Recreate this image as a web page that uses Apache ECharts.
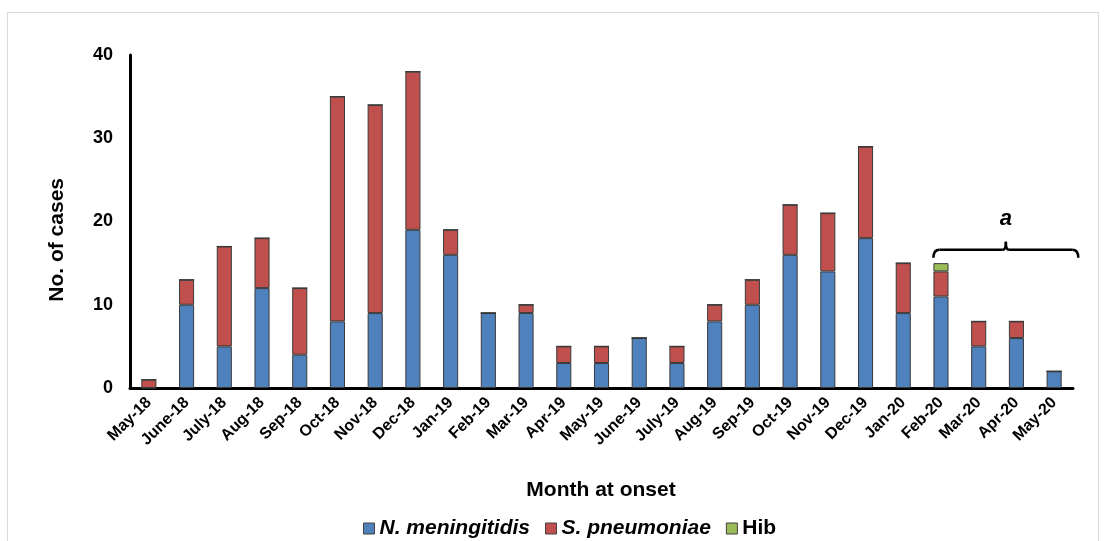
<!DOCTYPE html>
<html>
<head>
<meta charset="utf-8">
<script src="https://cdn.jsdelivr.net/npm/echarts@6/dist/echarts.min.js"></script>
<style>
  html, body { margin: 0; padding: 0; background: #fff; }
  #frame { position: absolute; left: 7px; top: 12px; width: 1092px; height: 540px; border: 1.5px solid #d9d9d9; border-bottom: none; box-sizing: border-box; }
  #chart { position: absolute; left: 0; top: 0; width: 1108px; height: 541px; }
</style>
</head>
<body>
<div id="frame"></div>
<div id="chart"></div>
<script>
// months at onset
const months = ['May-18', 'June-18', 'July-18', 'Aug-18', 'Sep-18', 'Oct-18', 'Nov-18', 'Dec-18',
  'Jan-19', 'Feb-19', 'Mar-19', 'Apr-19', 'May-19', 'June-19', 'July-19', 'Aug-19', 'Sep-19',
  'Oct-19', 'Nov-19', 'Dec-19', 'Jan-20', 'Feb-20', 'Mar-20', 'Apr-20', 'May-20'];
const nMeningitidis = [0, 10, 5, 12, 4, 8, 9, 19, 16, 9, 9, 3, 3, 6, 3, 8, 10, 16, 14, 18, 9, 11, 5, 6, 2];
const sPneumoniae = [1, 3, 12, 6, 8, 27, 25, 19, 3, 0, 1, 2, 2, 0, 2, 2, 3, 6, 7, 11, 6, 3, 3, 2, 0];
const hib = [0, 0, 0, 0, 0, 0, 0, 0, 0, 0, 0, 0, 0, 0, 0, 0, 0, 0, 0, 0, 0, 1, 0, 0, 0];
const yTicks = [0, 10, 20, 30, 40];

const font = 'Liberation Sans, Arial, Helvetica, sans-serif';
let chartDom = document.getElementById('chart');
let myChart = echarts.init(chartDom);

function barSeries(name, data, color) {
  return {
    name: name,
    type: 'bar',
    stack: 'total',
    barWidth: '40%',
    data: data,
    itemStyle: { color: color, borderColor: '#3a3a3a', borderWidth: 1 }
  };
}

const titleGraphics = [
  {
    type: 'text',
    left: 47,
    top: 178,
    rotation: Math.PI / 2,
    style: { text: 'No. of cases', font: 'bold 21px ' + font, fill: '#000' }
  },
  {
    type: 'text',
    x: 601,
    y: 490,
    style: { text: 'Month at onset', font: 'bold 21px ' + font, fill: '#000', align: 'center', verticalAlign: 'middle' }
  }
];

let option = {
  animation: false,
  textStyle: { fontFamily: font },
  grid: { left: 130, right: 35, top: 55, bottom: 153 },
  legend: {
    top: 513,
    left: 358,
    itemWidth: 11,
    itemHeight: 11,
    itemGap: 15,
    icon: 'rect',
    itemStyle: { borderColor: '#404040', borderWidth: 1 },
    formatter: function (name) {
      return name === 'Hib' ? '{n|' + name + '}' : '{i|' + name + '}';
    },
    textStyle: {
      rich: {
        i: { fontSize: 21, fontWeight: 'bold', fontStyle: 'italic', color: '#000', fontFamily: font },
        n: { fontSize: 21, fontWeight: 'bold', color: '#000', fontFamily: font }
      }
    },
    data: ['N. meningitidis', 'S. pneumoniae', 'Hib']
  },
  xAxis: {
    type: 'category',
    data: months,
    axisLine: { lineStyle: { color: '#000', width: 3 } },
    axisTick: { show: false },
    axisLabel: { interval: 0, rotate: 45, fontSize: 16, fontWeight: 'bold', color: '#000', margin: 12 }
  },
  yAxis: {
    type: 'value',
    min: yTicks[0],
    max: yTicks[yTicks.length - 1],
    interval: 10,
    axisLine: { show: true, lineStyle: { color: '#000', width: 3 } },
    axisTick: { show: false },
    splitLine: { show: false },
    axisLabel: { fontSize: 18, fontWeight: 'bold', color: '#000', margin: 17 }
  },
  graphic: titleGraphics,
  series: [
    barSeries('N. meningitidis', nMeningitidis, '#4F81BD'),
    barSeries('S. pneumoniae', sPneumoniae, '#C0504D'),
    barSeries('Hib', hib, '#9BBB59')
  ]
};
myChart.setOption(option);

// bracket "a" over Feb-20 .. May-20
const p0 = myChart.convertToPixel({ xAxisIndex: 0, yAxisIndex: 0 }, ['Feb-20', 16.6]);
const p1 = myChart.convertToPixel({ xAxisIndex: 0, yAxisIndex: 0 }, ['May-20', 16.6]);
const step = (p1[0] - p0[0]) / 3;
const bx0 = p0[0] - step * 0.2;
const bx1 = p1[0] + step * 0.64;
const by = p0[1];
const bm = (bx0 + bx1) / 2;
const lineStyle = { stroke: '#000', lineWidth: 2.5, fill: null };
const bracket = [
  { type: 'bezierCurve', shape: { x1: bx0, y1: by + 8, cpx1: bx0, cpy1: by, x2: bx0 + 6, y2: by }, style: lineStyle },
  { type: 'line', shape: { x1: bx0 + 6, y1: by, x2: bm - 3, y2: by }, style: lineStyle },
  { type: 'bezierCurve', shape: { x1: bm - 3, y1: by, cpx1: bm, cpy1: by, x2: bm, y2: by - 8 }, style: lineStyle },
  { type: 'bezierCurve', shape: { x1: bm, y1: by - 8, cpx1: bm, cpy1: by, x2: bm + 3, y2: by }, style: lineStyle },
  { type: 'line', shape: { x1: bm + 3, y1: by, x2: bx1 - 6, y2: by }, style: lineStyle },
  { type: 'bezierCurve', shape: { x1: bx1 - 6, y1: by, cpx1: bx1, cpy1: by, x2: bx1, y2: by + 8 }, style: lineStyle },
  {
    type: 'text',
    x: bm,
    y: by - 31,
    style: { text: 'a', font: 'italic bold 22px ' + font, fill: '#000', align: 'center', verticalAlign: 'middle' }
  }
];
myChart.setOption({ graphic: titleGraphics.concat(bracket) });
</script>
</body>
</html>
